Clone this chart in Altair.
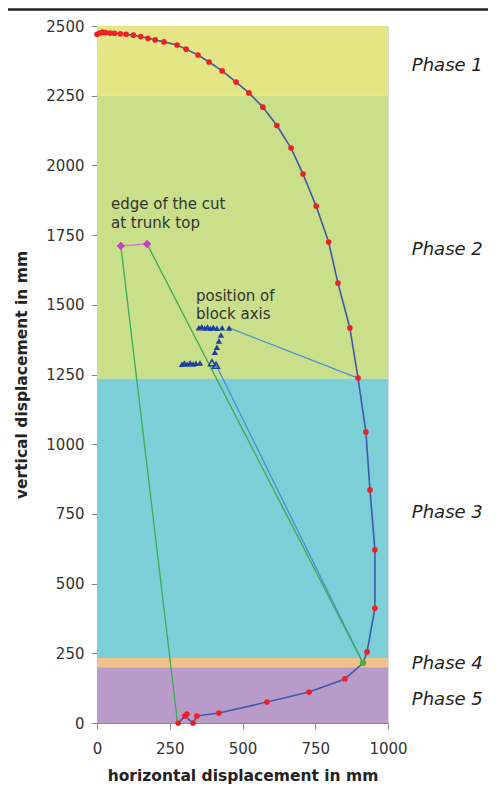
import altair as alt
import pandas as pd

# ---- data ----
band_names = ["Phase 1", "Phase 2", "Phase 3", "Phase 4", "Phase 5"]
band_lo = [2250, 1235, 233, 200, 0]
band_hi = [2500, 2250, 1235, 233, 200]
band_colors = ["#e4e585", "#c9df89", "#7ccfd6", "#f0c28a", "#b89bc9"]
phase_label_y = [2357, 1697, 753, 212, 83]

traj_x = [0, 10, 20, 30, 45, 60, 80, 100, 125, 150, 175, 200, 230, 275, 306, 347, 385,
          430, 478, 522, 570, 618, 667, 708, 753, 796, 828, 869, 897, 924, 938, 955,
          955, 928, 914, 852, 729, 584, 419, 343, 330, 302, 309, 279]
traj_y = [2470, 2475, 2478, 2476, 2475, 2474, 2472, 2470, 2467, 2462, 2456, 2450, 2443,
          2432, 2417, 2396, 2371, 2339, 2299, 2260, 2209, 2143, 2062, 1969, 1854, 1725,
          1578, 1417, 1237, 1044, 836, 621, 412, 255, 215, 158, 111, 75, 36, 25, 0, 25,
          32, 0]
traj_red = [True] * 34 + [False] + [True] * 9

axis_tri_x = [350, 360, 370, 380, 390, 400, 412, 430, 454, 426, 419, 412, 405,
              292, 300, 310, 320, 330, 340, 354]
axis_tri_y = [1418, 1421, 1417, 1420, 1416, 1419, 1416, 1418, 1417, 1392, 1370, 1348, 1330,
              1287, 1291, 1288, 1292, 1288, 1290, 1291]
axis_hollow_x = [395, 409]
axis_hollow_y = [1292, 1283]

edge_x = [82, 172]
edge_y = [1711, 1718]

green_dot_x = [914]
green_dot_y = [215]

# connecting lines (start -> end)
seg_name = ["blue1", "blue1", "blue2", "blue2", "green1", "green1", "green2", "green2",
            "edge", "edge"]
seg_x = [454, 897, 409, 914, 82, 276, 172, 914, 82, 172]
seg_y = [1417, 1237, 1285, 215, 1711, 8, 1718, 215, 1711, 1718]
seg_colors_domain = ["blue1", "blue2", "green1", "green2", "edge"]
seg_colors_range = ["#4a8fd6", "#4a8fd6", "#3aad52", "#3aad52", "#d27ad2"]

notes = ["edge of the cut", "at trunk top", "position of", "block axis"]
notes_x = [48, 48, 340, 340]
notes_y = [1863, 1795, 1533, 1466]

x_ticks = [0, 250, 500, 750, 1000]
y_ticks = [0, 250, 500, 750, 1000, 1250, 1500, 1750, 2000, 2250, 2500]

W, H = 291, 697
FONT = "DejaVu Sans"

xs = alt.Scale(domain=[0, 1000], nice=False, zero=False)
ys = alt.Scale(domain=[0, 2500], nice=False, zero=False)

bands = pd.DataFrame({"name": band_names, "lo": band_lo, "hi": band_hi,
                      "x0": [0] * 5, "x1": [1000] * 5})
band_layer = alt.Chart(bands).mark_rect(opacity=1).encode(
    x=alt.X("x0:Q", scale=xs, axis=alt.Axis(values=x_ticks, format="d", labelFlush=False,
                                            title="horizontal displacement in mm",
                                            labelPadding=12, titlePadding=12)),
    x2="x1:Q",
    y=alt.Y("lo:Q", scale=ys, axis=alt.Axis(values=y_ticks, format="d",
                                            title="vertical displacement in mm",
                                            labelPadding=7, titlePadding=16)),
    y2="hi:Q",
    color=alt.Color("name:N", scale=alt.Scale(domain=band_names, range=band_colors), legend=None),
)

traj = pd.DataFrame({"x": traj_x, "y": traj_y, "i": list(range(len(traj_x))), "red": traj_red})
traj_line = alt.Chart(traj).mark_line(color="#3f5aa8", strokeWidth=1.6).encode(
    x=alt.X("x:Q", scale=xs), y=alt.Y("y:Q", scale=ys), order="i:Q")

segs = pd.DataFrame({"name": seg_name, "x": seg_x, "y": seg_y})
seg_layer = alt.Chart(segs).mark_line(strokeWidth=1.3).encode(
    x=alt.X("x:Q", scale=xs), y=alt.Y("y:Q", scale=ys),
    detail="name:N",
    color=alt.Color("name:N", scale=alt.Scale(domain=seg_colors_domain, range=seg_colors_range),
                    legend=None),
)

red_pts = alt.Chart(traj[traj["red"]]).mark_circle(color="#f02020", size=32, opacity=1).encode(
    x=alt.X("x:Q", scale=xs), y=alt.Y("y:Q", scale=ys))

tri = pd.DataFrame({"x": axis_tri_x, "y": axis_tri_y})
tri_layer = alt.Chart(tri).mark_point(shape="triangle-up", filled=True, color="#1d3fa3",
                                      size=40, opacity=1).encode(
    x=alt.X("x:Q", scale=xs), y=alt.Y("y:Q", scale=ys))
tri_h = pd.DataFrame({"x": axis_hollow_x, "y": axis_hollow_y})
tri_h_layer = alt.Chart(tri_h).mark_point(shape="triangle-up", filled=False, color="#1d3fa3",
                                          size=45, strokeWidth=1.6, opacity=1).encode(
    x=alt.X("x:Q", scale=xs), y=alt.Y("y:Q", scale=ys))

edge = pd.DataFrame({"x": edge_x, "y": edge_y})
edge_layer = alt.Chart(edge).mark_point(shape="diamond", filled=True, color="#c23fc2",
                                        size=70, opacity=1).encode(
    x=alt.X("x:Q", scale=xs), y=alt.Y("y:Q", scale=ys))

gdot = pd.DataFrame({"x": green_dot_x, "y": green_dot_y})
gdot_layer = alt.Chart(gdot).mark_circle(color="#44b044", size=40, opacity=1).encode(
    x=alt.X("x:Q", scale=xs), y=alt.Y("y:Q", scale=ys))

nt = pd.DataFrame({"t": notes, "x": notes_x, "y": notes_y})
note_layer = alt.Chart(nt).mark_text(align="left", baseline="middle", font=FONT,
                                     fontSize=15, color="#333333").encode(
    x=alt.X("x:Q", scale=xs), y=alt.Y("y:Q", scale=ys), text="t:N")

pl = pd.DataFrame({"t": band_names, "y": phase_label_y, "x": [1082] * 5})
phase_layer = alt.Chart(pl).mark_text(align="left", baseline="middle", font=FONT,
                                      fontSize=18, fontStyle="italic", color="#222222").encode(
    x=alt.X("x:Q", scale=xs), y=alt.Y("y:Q", scale=ys), text="t:N")

top_rule = alt.Chart(pd.DataFrame({"k": [0]})).mark_rule(color="#222222", strokeWidth=2.5).encode(
    x=alt.value(-100), x2=alt.value(410), y=alt.value(-16.5))

chart = alt.layer(
    band_layer, seg_layer, traj_line, red_pts, tri_layer, tri_h_layer, edge_layer,
    gdot_layer, note_layer, phase_layer, top_rule
).resolve_scale(color="independent").properties(
    width=W, height=H,
    autosize=alt.AutoSizeParams(type="none"),
    padding={"left": 89, "top": 18, "right": 100, "bottom": 70},
).configure_view(stroke="#d8d8d8", strokeWidth=1
).configure_axis(
    grid=False, domainColor="#888888", tickColor="#888888", tickSize=6,
    labelFont=FONT, labelFontSize=15, labelColor="#333333",
    titleFont=FONT, titleFontSize=15.5, titleFontWeight="bold", titleColor="#222222",
)

chart.save("out.html", embed_options={"renderer": "svg", "actions": False})
